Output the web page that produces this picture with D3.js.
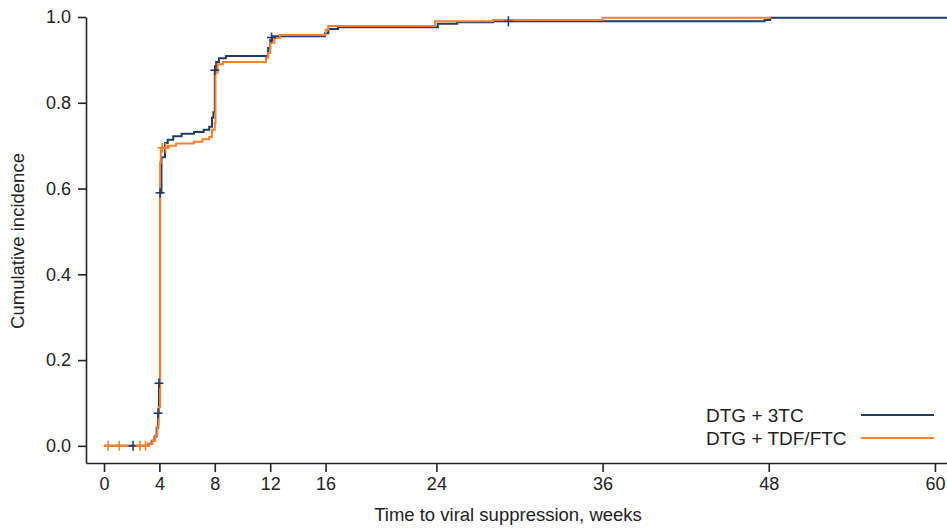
<!DOCTYPE html>
<html>
<head>
<meta charset="utf-8">
<script src="https://cdn.jsdelivr.net/npm/d3@7"></script>
<style>
  body { margin: 0; background: #fff; }
  svg { display: block; font-family: "Liberation Sans", Arial, sans-serif; }
</style>
</head>
<body>
<svg id="chart" width="947" height="528"></svg>
<script>
// ---- Data (weeks, cumulative incidence) ----
const seriesNames = ["DTG + 3TC", "DTG + TDF/FTC"];
const seriesColors = ["#1f3d6b", "#ff7f2a"];

const dtg3tc = [
  [0, 0], [3.2, 0.005], [3.45, 0.012], [3.65, 0.022], [3.8, 0.042], [3.9, 0.076],
  [3.97, 0.146], [4.05, 0.59], [4.15, 0.673], [4.4, 0.706], [4.6, 0.714], [5.0, 0.722],
  [5.6, 0.728], [6.5, 0.732], [7.2, 0.737], [7.6, 0.744], [7.8, 0.765], [7.9, 0.778],
  [8.0, 0.876], [8.1, 0.895], [8.3, 0.904], [8.8, 0.909], [11.85, 0.928], [12.0, 0.946],
  [12.15, 0.955], [15.95, 0.962], [16.2, 0.972], [16.9, 0.976], [24.1, 0.984],
  [25.5, 0.988], [28.1, 0.99], [47.7, 0.993], [48.1, 0.998], [61, 0.998]
];
const dtgTdf = [
  [0, 0], [3.2, 0.005], [3.5, 0.012], [3.7, 0.025], [3.85, 0.045], [3.95, 0.09],
  [4.05, 0.66], [4.1, 0.695], [4.6, 0.70], [5.2, 0.705], [6.5, 0.709], [7.1, 0.715],
  [7.6, 0.72], [7.8, 0.737], [8.0, 0.753], [8.05, 0.87], [8.2, 0.89], [8.6, 0.895],
  [11.7, 0.905], [11.85, 0.916], [12.0, 0.94], [12.3, 0.951], [12.7, 0.958],
  [16.0, 0.97], [16.2, 0.979], [23.9, 0.99], [28.1, 0.993], [36.0, 0.998], [48.1, 1.0]
];
const censor3tc = [[2.1, 0], [3.9, 0.076], [3.97, 0.146], [4.05, 0.59], [8.0, 0.876], [12.1, 0.952], [29.2, 0.99]];
const censorTdf = [[0.3, 0], [1.1, 0], [2.6, 0], [3.0, 0], [4.2, 0.695], [4.45, 0.695]];

const xTicks = [0, 4, 8, 12, 16, 24, 36, 48, 60];
const yTicks = [0, 0.2, 0.4, 0.6, 0.8, 1.0];
const xTitle = "Time to viral suppression, weeks";
const yTitle = "Cumulative incidence";

// ---- Chart ----
const svg = d3.select("#chart");
const x = d3.scaleLinear().domain([-1.3, 60.87]).range([86, 947]);
const y = d3.scaleLinear().domain([-0.04, 1]).range([463, 17]);

const xAxis = svg.append("g").attr("transform", "translate(0,463)")
  .call(d3.axisBottom(x).tickValues(xTicks).tickFormat(d3.format("d")).tickSize(9).tickSizeOuter(0).tickPadding(5));
const yAxis = svg.append("g").attr("transform", "translate(86,0)")
  .call(d3.axisLeft(y).tickValues(yTicks).tickFormat(d3.format(".1f")).tickSize(8).tickSizeOuter(0).tickPadding(7));

[xAxis, yAxis].forEach(a => {
  a.selectAll("path.domain").attr("stroke", "#222").attr("stroke-width", 1.6);
  a.selectAll(".tick line").attr("stroke", "#222").attr("stroke-width", 1.6);
  a.selectAll(".tick text").attr("fill", "#222").style("font-size", "18px").style("font-family", "Liberation Sans, Arial, sans-serif");
});

const line = d3.line().x(d => x(d[0])).y(d => y(d[1])).curve(d3.curveStepAfter);

const allSeries = [dtg3tc, dtgTdf];
const allCensor = [censor3tc, censorTdf];

allSeries.forEach((s, i) => {
  svg.append("path").datum(s).attr("d", line)
    .attr("fill", "none").attr("stroke", seriesColors[i]).attr("stroke-width", 2);
});
allCensor.forEach((c, i) => {
  const g = svg.append("g").attr("stroke", seriesColors[i]).attr("stroke-width", 1.6);
  c.forEach(d => {
    const cx = x(d[0]), cy = y(d[1]);
    g.append("line").attr("x1", cx - 4.5).attr("x2", cx + 4.5).attr("y1", cy).attr("y2", cy);
    g.append("line").attr("x1", cx).attr("x2", cx).attr("y1", cy - 5).attr("y2", cy + 5);
  });
});

// axis titles
svg.append("text").attr("x", 508).attr("y", 521).attr("text-anchor", "middle")
  .attr("fill", "#222").style("font-size", "18.5px").text(xTitle);
svg.append("text").attr("transform", "translate(24,241) rotate(-90)").attr("text-anchor", "middle")
  .attr("fill", "#222").style("font-size", "18.5px").text(yTitle);

// legend
const lg = svg.append("g");
lg.append("rect").attr("x", 700).attr("y", 401).attr("width", 230).attr("height", 46)
  .attr("fill", "#fff");
seriesNames.forEach((n, i) => {
  const ly = 415 + i * 23;
  lg.append("text").attr("x", 706).attr("y", ly + 6.5).attr("fill", "#222")
    .style("font-size", "19px").text(n);
  lg.append("line").attr("x1", 861).attr("x2", 934).attr("y1", ly).attr("y2", ly)
    .attr("stroke", seriesColors[i]).attr("stroke-width", 2);
});
</script>
</body>
</html>
